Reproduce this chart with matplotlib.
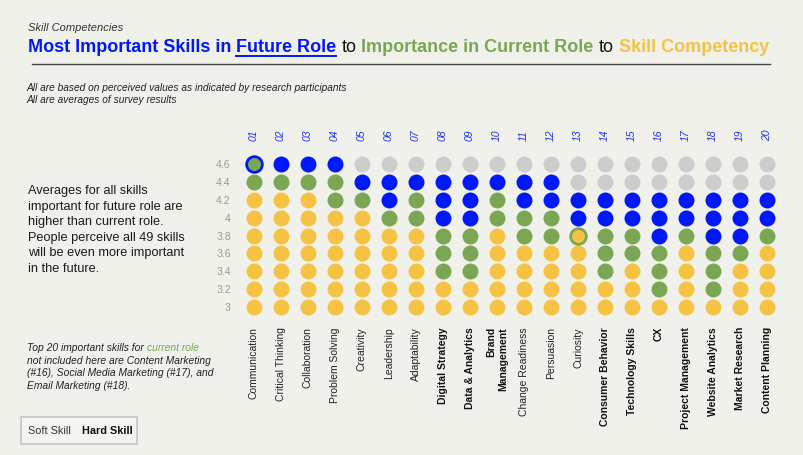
import matplotlib
matplotlib.use("Agg")
import matplotlib.pyplot as plt
from matplotlib.patches import Rectangle
from matplotlib.lines import Line2D

plt.rcParams['font.family'] = ['Liberation Sans', 'DejaVu Sans']

# ---------------- data ----------------
numbers = ["01", "02", "03", "04", "05", "06", "07", "08", "09", "10",
           "11", "12", "13", "14", "15", "16", "17", "18", "19", "20"]
skills = ["Communication", "Critical Thinking", "Collaboration", "Problem Solving",
          "Creativity", "Leadership", "Adaptability", "Digital Strategy",
          "Data & Analytics", "Brand\nManagement", "Change Readiness", "Persuasion",
          "Curiosity", "Consumer Behavior", "Technology Skills", "CX",
          "Project Management", "Website Analytics", "Market Research", "Content Planning"]
hard_skill = [False, False, False, False, False, False, False, True, True, True,
              False, False, False, True, True, True, True, True, True, True]
future_role = [4.6, 4.6, 4.6, 4.6, 4.4, 4.4, 4.4, 4.4, 4.4, 4.4,
               4.4, 4.4, 4.2, 4.2, 4.2, 4.2, 4.2, 4.2, 4.2, 4.2]
current_role = [4.6, 4.4, 4.4, 4.4, 4.2, 4.0, 4.2, 3.8, 3.8, 4.2,
                4.0, 4.0, 3.8, 3.8, 3.8, 3.6, 3.8, 3.6, 3.6, 3.8]
competency = [4.2, 4.2, 4.2, 4.0, 4.0, 3.8, 3.8, 3.2, 3.2, 3.8,
              3.6, 3.6, 3.8, 3.2, 3.4, 3.0, 3.6, 3.0, 3.4, 3.6]
levels = [3.0, 3.2, 3.4, 3.6, 3.8, 4.0, 4.2, 4.4, 4.6]
level_labels = ["3", "3.2", "3.4", "3.6", "3.8", "4", "4.2", "4.4", "4.6"]

BG = "#f1f1ec"
BLUE = "#0019fa"
GREEN = "#7ba653"
YELLOW = "#f6c244"
GRAY = "#cdcdcd"

W, H = 804, 455
fig = plt.figure(figsize=(W / 100, H / 100), dpi=100, facecolor=BG)


def fx(px):
    return px / W


def fy(py):
    return 1 - py / H


# ---------------- dot grid ----------------
ax = fig.add_axes([fx(240.5), fy(316), 540 / W, 161 / H])
ax.set_facecolor(BG)
ax.set_xlim(0.5, 20.5)
ax.set_ylim(2.9, 4.7)
for s in ax.spines.values():
    s.set_visible(False)

eps = 1e-6
dot_s = 11.5 ** 2
ring_s = 13.3 ** 2
inner_s = 9.3 ** 2
for i in range(len(numbers)):
    x = i + 1
    for lv in levels:
        if lv <= competency[i] + eps:
            c = YELLOW
            ring = GREEN if abs(lv - competency[i]) < eps and abs(competency[i] - current_role[i]) < eps else None
        elif lv <= current_role[i] + eps:
            c = GREEN
            ring = BLUE if abs(lv - current_role[i]) < eps and abs(current_role[i] - future_role[i]) < eps else None
        elif lv <= future_role[i] + eps:
            c = BLUE
            ring = None
        else:
            c = GRAY
            ring = None
        if ring:
            ax.scatter([x], [lv], s=ring_s, color=ring, linewidths=0, zorder=2)
            ax.scatter([x], [lv], s=inner_s, color=c, linewidths=0, zorder=3)
        else:
            ax.scatter([x], [lv], s=dot_s, color=c, linewidths=0, zorder=2)

ax.set_yticks(levels)
ax.set_yticklabels(level_labels, color="#9a9a9a", fontsize=7.6)
ax.tick_params(axis='y', length=0, pad=7)

ax.set_xticks(range(1, 21))
ax.set_xticklabels(skills, rotation=90, fontsize=7.5, color="#222222",
                   va='top', ha='center', multialignment='right')
for lab, hs in zip(ax.get_xticklabels(), hard_skill):
    if hs:
        lab.set_fontweight('bold')
        lab.set_color("#111111")
ax.tick_params(axis='x', length=0, pad=8)

sec = ax.secondary_xaxis('top')
sec.set_xticks(range(1, 21))
sec.set_xticklabels(numbers, rotation=90, fontsize=7.5, color="#2233ee",
                    fontstyle='italic', va='bottom', ha='center')
sec.tick_params(axis='x', length=0, pad=10)
for s in sec.spines.values():
    s.set_visible(False)

# ---------------- header ----------------
fig.text(fx(28), fy(31), "Skill Competencies", fontsize=8.0, fontstyle='italic',
         color="#333333", va='baseline')

renderer = fig.canvas.get_renderer()


def seg_line(x0, y0, segments, size):
    """Place colored text segments one after another on a baseline."""
    probe1 = fig.text(0, 0, "a a", fontsize=size)
    probe2 = fig.text(0, 0, "aa", fontsize=size)
    sp = probe1.get_window_extent(renderer).width - probe2.get_window_extent(renderer).width
    probe1.remove()
    probe2.remove()
    xpix = x0
    for txt, color, weight, underline, style in segments:
        t = fig.text(fx(xpix), fy(y0), txt, fontsize=size, color=color,
                     fontweight=weight, fontstyle=style, va='baseline')
        bb = t.get_window_extent(renderer)
        if underline:
            fig.add_artist(Line2D([fx(xpix), fx(xpix + bb.width)],
                                  [fy(y0 + 3.5), fy(y0 + 3.5)],
                                  color=color, lw=1.4, transform=fig.transFigure))
        xpix += bb.width + sp


seg_line(28, 52, [
    ("Most Important Skills in", BLUE, 'bold', False, 'normal'),
    ("Future Role", BLUE, 'bold', True, 'normal'),
    ("to", "#111111", 'normal', False, 'normal'),
    ("Importance in Current Role", GREEN, 'bold', False, 'normal'),
    ("to", "#111111", 'normal', False, 'normal'),
    ("Skill Competency", YELLOW, 'bold', False, 'normal'),
], 13.0)

fig.add_artist(Line2D([fx(32), fx(770)], [fy(64), fy(64)], color="#444444",
                      lw=1.0, transform=fig.transFigure))

fig.text(fx(27), fy(91), "All are based on perceived values as indicated by research participants",
         fontsize=7.3, fontstyle='italic', color="#222222", va='baseline')
fig.text(fx(27), fy(103), "All are averages of survey results",
         fontsize=7.3, fontstyle='italic', color="#222222", va='baseline')

# ---------------- left note ----------------
note = ["Averages for all skills", "important for future role are",
        "higher than current role.", "People perceive all 49 skills",
        "will be even more important", "in the future."]
for k, line in enumerate(note):
    fig.text(fx(28), fy(194 + k * 15.6), line, fontsize=9.2, color="#1a1a1a",
             va='baseline')

# ---------------- footnote ----------------
seg_line(27, 351, [
    ("Top 20 important skills for", "#222222", 'normal', False, 'italic'),
    ("current role", GREEN, 'normal', False, 'italic'),
], 7.4)
foot = ["not included here are Content Marketing",
        "(#16), Social Media Marketing (#17), and",
        "Email Marketing (#18)."]
for k, line in enumerate(foot):
    fig.text(fx(27), fy(351 + (k + 1) * 12.7), line, fontsize=7.4,
             fontstyle='italic', color="#222222", va='baseline')

# ---------------- legend box ----------------
fig.add_artist(Rectangle((fx(21), fy(444)), 116 / W, 27 / H, transform=fig.transFigure,
                         facecolor="#f4f4f0", edgecolor="#c4c4c4", lw=1.2))
fig.text(fx(28), fy(433.5), "Soft Skill", fontsize=7.8, color="#333333", va='baseline')
fig.text(fx(82), fy(433.5), "Hard Skill", fontsize=7.8, color="#111111",
         fontweight='bold', va='baseline')

fig.savefig("out.png", dpi=100, facecolor=BG)
